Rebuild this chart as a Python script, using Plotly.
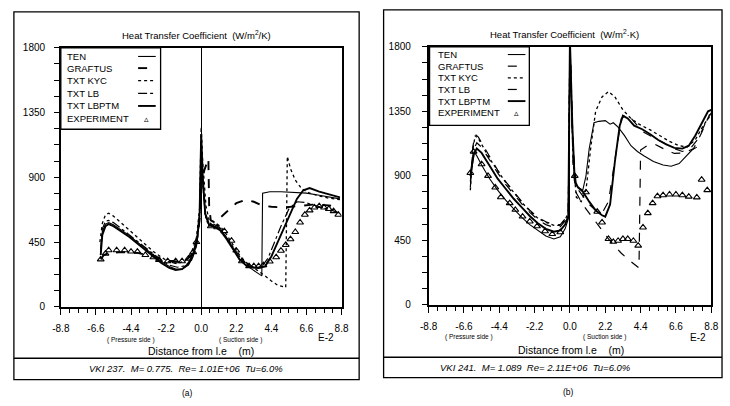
import plotly.graph_objects as go

W, H = 730, 406

# ---------------- data: panel (a) VKI 237 ----------------
a_ten_x = [-6.3,-6.2,-6.0,-5.8,-5.5,-5.0,-4.5,-4.0,-3.5,-3.0,-2.5,-2.0,-1.6,-1.2,-0.8,-0.5,-0.25,-0.1,0.0,0.1,0.25,0.5,0.8,1.2,1.6,2.0,2.4,2.8,3.2,3.6,3.8,3.85,4.3,5.0,5.8,6.6,7.4,8.2,8.7]
a_ten_y = [380,520,575,585,570,535,495,450,405,360,315,280,262,262,290,350,450,620,1150,850,640,560,575,545,480,410,330,290,260,230,215,790,800,800,795,790,775,760,750]

a_graftus_x = [-6.3,-6.1,-5.8,-5.0,-4.0,-3.5,-3.0,-2.5,-2.0,-1.5,-1.0,-0.6,-0.3,-0.1,0.0,0.2,0.45,0.5,0.6,0.8,1.1,1.6,2.2,2.8,3.3,3.8,4.4,5.2,6.0,7.0,8.0,8.7]
a_graftus_y = [330,360,375,380,375,365,350,335,320,315,320,360,450,600,850,950,1030,700,600,590,610,660,720,745,730,705,695,690,700,710,705,690]

a_kyc_x = [-6.35,-6.2,-6.0,-5.8,-5.5,-5.0,-4.5,-4.0,-3.5,-3.0,-2.5,-2.0,-1.5,-1.0,-0.6,-0.3,-0.1,0.0,0.1,0.3,0.5,0.8,1.2,1.6,2.0,2.4,2.8,3.2,3.6,4.0,4.4,4.8,5.3,5.4,5.6,5.9,6.3,6.8,7.4,8.0,8.7]
a_kyc_y = [450,580,640,650,630,580,530,480,430,385,345,310,300,320,380,480,680,1250,1000,700,600,590,560,500,430,360,310,280,250,215,180,150,135,1045,960,880,820,790,770,755,745]

a_lb_x = [-6.3,-6.2,-6.0,-5.8,-5.5,-5.0,-4.5,-4.0,-3.5,-3.0,-2.5,-2.0,-1.5,-1.0,-0.6,-0.3,-0.1,0.0,0.1,0.3,0.6,1.0,1.4,1.8,2.2,2.6,3.0,3.4,3.8,4.2,4.6,5.0,5.5,6.0,6.5,7.0,7.6,8.2,8.7]
a_lb_y = [400,540,595,600,585,545,500,455,410,365,325,290,275,285,330,420,600,1100,850,600,560,555,510,450,380,320,285,270,280,340,450,560,680,730,725,710,690,670,650]

a_lbptm_x = [-6.3,-6.2,-6.0,-5.8,-5.5,-5.0,-4.5,-4.0,-3.5,-3.0,-2.5,-2.0,-1.6,-1.2,-0.8,-0.5,-0.25,-0.1,0.0,0.1,0.25,0.5,0.8,1.2,1.6,2.0,2.4,2.8,3.2,3.6,4.0,4.4,4.8,5.2,5.6,6.0,6.4,6.8,7.4,8.0,8.7]
a_lbptm_y = [360,500,560,575,560,525,485,440,395,350,305,270,255,262,300,370,480,650,1200,900,650,570,560,530,470,400,330,290,275,270,280,350,450,560,660,750,810,825,800,780,760]

a_exp_x = [-6.3,-6.0,-5.8,-5.3,-4.8,-4.4,-4.0,-3.5,-3.0,-2.65,-2.1,-1.6,-1.2,-0.8,-0.5,-0.3,0.6,1.0,1.45,1.9,2.2,2.55,3.0,3.3,3.6,3.9,4.3,4.7,5.0,5.3,5.6,5.9,6.2,6.5,6.8,7.1,7.4,7.7,8.0,8.3,8.6]
a_exp_y = [330,370,393,393,393,384,384,360,344,326,317,317,317,335,380,450,560,553,526,459,391,317,283,283,283,290,315,345,390,430,470,520,586,640,670,690,700,690,680,665,640]

# ---------------- data: panel (b) VKI 241 ----------------
b_ten_x = [-6.2,-6.05,-5.95,-5.8,-5.5,-5.0,-4.5,-4.0,-3.5,-3.0,-2.5,-2.0,-1.5,-1.0,-0.6,-0.3,-0.1,0.0,0.15,0.3,0.5,0.8,1.0,1.2,1.5,1.8,2.2,2.5,2.7,3.0,3.4,3.8,4.2,4.6,5.2,5.8,6.3,6.8,7.2,7.6,7.9]
b_ten_y = [880,1000,1065,1040,975,880,800,730,670,610,560,520,480,460,475,530,600,1850,1200,850,820,800,900,1090,1270,1280,1285,1260,1270,1240,1180,1110,1070,1040,1000,975,967,985,1030,1080,1100]

b_graftus_x = [-6.2,-6.05,-5.9,-5.7,-5.4,-5.0,-4.5,-4.0,-3.5,-3.0,-2.5,-2.0,-1.5,-1.0,-0.6,-0.3,-0.1,0.0,0.2,0.4,0.8,1.2,1.6,2.0,2.4,2.8,3.2,3.6,4.0,4.3,4.4,4.8,5.3,5.9,6.5,7.1,7.7,8.2,8.7]
b_graftus_y = [820,1100,1190,1170,1110,1030,940,860,790,720,660,610,580,560,560,600,650,1850,950,780,700,640,580,520,460,410,360,320,280,257,1080,1110,1120,1085,1056,1060,1090,1200,1330]

b_kyc_x = [-6.2,-6.05,-5.9,-5.7,-5.4,-5.0,-4.5,-4.0,-3.5,-3.0,-2.5,-2.0,-1.5,-1.0,-0.6,-0.3,-0.1,0.0,0.2,0.4,0.7,1.0,1.3,1.6,2.0,2.4,2.8,3.3,3.8,4.3,5.0,5.6,6.2,6.8,7.3,7.8,8.3,8.8]
b_kyc_y = [800,1080,1180,1160,1100,1020,935,855,785,715,655,605,575,555,555,595,640,1850,1000,750,720,800,1100,1350,1450,1488,1450,1360,1300,1260,1220,1180,1140,1110,1100,1150,1250,1330]

b_lb_x = [-6.2,-6.0,-5.8,-5.5,-5.0,-4.5,-4.0,-3.5,-3.0,-2.5,-2.0,-1.5,-1.0,-0.6,-0.3,-0.1,0.0,0.2,0.4,0.8,1.2,1.6,2.0,2.4,2.8,3.2,3.6,4.0,4.5,5.0,5.5,6.0,6.5,7.0,7.5,8.0,8.4,8.8]
b_lb_y = [860,1080,1130,1100,1010,920,840,770,705,645,595,560,540,545,585,635,1850,1100,820,760,700,660,640,720,1000,1300,1330,1280,1210,1180,1150,1120,1090,1070,1090,1160,1260,1340]

b_lbptm_x = [-6.2,-6.0,-5.8,-5.5,-5.0,-4.5,-4.0,-3.5,-3.0,-2.5,-2.0,-1.5,-1.0,-0.6,-0.3,-0.1,0.0,0.15,0.3,0.5,0.8,1.2,1.6,2.0,2.2,2.5,2.8,3.1,3.3,3.6,4.0,4.5,5.0,5.5,6.0,6.5,7.0,7.4,7.8,8.2,8.6,8.8]
b_lbptm_y = [900,1050,1090,1060,970,880,810,740,680,620,570,530,510,520,560,620,1850,1250,866,820,790,720,660,625,615,700,1000,1250,1320,1300,1250,1225,1190,1150,1120,1095,1090,1110,1180,1270,1350,1360]

b_exp_x = [-6.2,-6.0,-5.5,-5.1,-4.65,-4.3,-3.75,-3.4,-2.95,-2.5,-2.05,-1.55,-1.1,-0.6,0.3,1.0,1.7,2.0,2.4,2.7,3.0,3.3,3.6,3.95,4.25,4.55,4.85,5.15,5.45,5.8,6.2,6.6,7.0,7.4,7.9,8.2,8.55]
b_exp_y = [920,1069,981,900,819,751,710,663,616,582,548,514,494,507,900,785,650,575,460,440,447,460,460,447,413,540,640,710,758,765,770,770,765,755,750,873,800]

tick_vals = [-8.8, -6.6, -4.4, -2.2, 0.0, 2.2, 4.4, 6.6, 8.8]
tick_text = ["-8.8", "-6.6", "-4.4", "-2.2", "0.0", "2.2", "4.4", "6.6", "8.8"]
y_vals = [0, 450, 900, 1350, 1800]
y_text = ["0", "450", "900", "1350", "1800"]

FONT = "Liberation Sans, Arial, Helvetica, sans-serif"

series_styles = {
    "ten": dict(color="black", width=1.1, dash="solid"),
    "graftus_a": dict(color="black", width=1.9, dash="dash"),
    "graftus_b": dict(color="black", width=1.2, dash="dash"),
    "kyc": dict(color="black", width=1.3, dash="dot"),
    "lb_a": dict(color="black", width=1.2, dash="dashdot"),
    "lb_b": dict(color="black", width=1.2, dash="dash"),
    "lbptm": dict(color="black", width=1.9, dash="solid"),
}

fig = go.Figure()

def add_line(x, y, style, xa, ya, name):
    fig.add_trace(go.Scatter(x=x, y=y, mode="lines", line=series_styles[style],
                             xaxis=xa, yaxis=ya, name=name, showlegend=False))

def add_exp(x, y, xa, ya):
    fig.add_trace(go.Scatter(x=x, y=y, mode="markers",
                             marker=dict(symbol="triangle-up-open", size=6, color="black",
                                         line=dict(width=1.1, color="black")),
                             xaxis=xa, yaxis=ya, name="EXPERIMENT", showlegend=False))

add_line(a_ten_x, a_ten_y, "ten", "x", "y", "TEN")
add_line(a_graftus_x, a_graftus_y, "graftus_a", "x", "y", "GRAFTUS")
add_line(a_kyc_x, a_kyc_y, "kyc", "x", "y", "TXT KYC")
add_line(a_lb_x, a_lb_y, "lb_a", "x", "y", "TXT LB")
add_line(a_lbptm_x, a_lbptm_y, "lbptm", "x", "y", "TXT LBPTM")
add_exp(a_exp_x, a_exp_y, "x", "y")

add_line(b_ten_x, b_ten_y, "ten", "x2", "y2", "TEN")
add_line(b_graftus_x, b_graftus_y, "graftus_b", "x2", "y2", "GRAFTUS")
add_line(b_kyc_x, b_kyc_y, "kyc", "x2", "y2", "TXT KYC")
add_line(b_lb_x, b_lb_y, "lb_b", "x2", "y2", "TXT LB")
add_line(b_lbptm_x, b_lbptm_y, "lbptm", "x2", "y2", "TXT LBPTM")
add_exp(b_exp_x, b_exp_y, "x2", "y2")

def px(v):
    return v / W

def py(v):
    return 1 - v / H

def xaxis_cfg(domain, anchor, standoff):
    return dict(domain=domain, anchor=anchor, range=[-8.8, 8.8], tickmode="array",
                tickvals=tick_vals, ticktext=tick_text, ticks="outside", ticklen=6,
                tickwidth=1, tickcolor="black", showline=True, linecolor="black",
                linewidth=1.5, mirror=True, showgrid=False, zeroline=True,
                zerolinecolor="black", zerolinewidth=1.2,
                ticklabelstandoff=standoff, ticklabeloverflow="allow",
                tickfont=dict(family=FONT, size=10, color="black"),
                minor=dict(tick0=-8.8, dtick=0.55, ticks="outside", ticklen=4,
                           tickcolor="black", showgrid=False))

def yaxis_cfg(domain, anchor, standoff):
    return dict(domain=domain, anchor=anchor, range=[0, 1800], tickmode="array",
                tickvals=y_vals, ticktext=y_text, ticks="outside", ticklen=5,
                tickwidth=1, tickcolor="black", showline=True, linecolor="black",
                linewidth=1.5, mirror=True, showgrid=False, zeroline=False,
                ticklabelstandoff=standoff, ticklabeloverflow="allow",
                tickfont=dict(family=FONT, size=10, color="black"),
                minor=dict(tick0=0, dtick=112.5, ticks="outside", ticklen=5,
                           tickcolor="black", showgrid=False))

fig.update_layout(
    width=W, height=H, margin=dict(l=0, r=0, t=0, b=0),
    paper_bgcolor="white", plot_bgcolor="white",
    xaxis=xaxis_cfg([px(53), px(340)], "y", 5),
    yaxis=yaxis_cfg([py(310), py(43)], "x", 7),
    xaxis2=xaxis_cfg([px(429), px(718)], "y2", 5),
    yaxis2=yaxis_cfg([py(308), py(42)], "x2", 9),
    showlegend=False,
)

shapes = []
annots = []

def rect(x0, y0, x1, y1, w=1.2):
    shapes.append(dict(type="rect", xref="paper", yref="paper", x0=px(x0), x1=px(x1),
                       y0=py(y1), y1=py(y0), line=dict(color="black", width=w),
                       fillcolor="rgba(0,0,0,0)", layer="above"))

def hline(x0, x1, y, w=1.2, dash="solid"):
    shapes.append(dict(type="line", xref="paper", yref="paper", x0=px(x0), x1=px(x1),
                       y0=py(y), y1=py(y), line=dict(color="black", width=w, dash=dash),
                       layer="above"))

def text(x, y, s, size=10, anchor="center", italic=False, family=FONT):
    annots.append(dict(xref="paper", yref="paper", x=px(x), y=py(y), text=s,
                       showarrow=False, xanchor=anchor, yanchor="middle",
                       font=dict(family=family, size=size, color="black",
                                 style="italic" if italic else "normal")))

# outer frames and caption boxes
rect(5, 6, 358, 385, 1.3)
hline(5, 358, 363, 1.6)
rect(383, 4, 729, 383, 1.3)
hline(383, 729, 362, 1.6)

# titles
text(192, 30, "Heat Transfer Coefficient  (W/m<sup>2</sup>/K)", 9.5)
text(568, 29, "Heat Transfer Coefficient  (W/m<sup>2</sup>·K)", 9.5)

# axis decorations panel a
text(324, 342, "E-2", 10)
text(125, 344, "( Pressure side )", 6.5)
text(237, 344, "( Suction side )", 6.5)
text(196, 355, "Distance from l.e    (m)", 10.5)
text(181, 374, "VKI 237.  M= 0.775.  Re= 1.01E+06  Tu=6.0%", 9.5, italic=True)
text(183, 399, "(a)", 8.5)

# axis decorations panel b
text(704, 342, "E-2", 10)
text(470, 341, "( Pressure side )", 6.5)
text(609, 341, "( Suction side )", 6.5)
text(575, 354, "Distance from l.e    (m)", 10.5)
text(538, 373, "VKI 241.  M= 1.089  Re= 2.11E+06  Tu=6.0%", 9.5, italic=True)
text(572, 398, "(b)", 8.5)

# legends (label left, sample right) drawn as a boxed key
legend_names = ["TEN", "GRAFTUS", "TXT KYC", "TXT LB", "TXT LBPTM", "EXPERIMENT"]

def legend(x0, y0, x1, y1, rows, tx, s0, s1, styles):
    shapes.append(dict(type="rect", xref="paper", yref="paper", x0=px(x0), x1=px(x1),
                       y0=py(y1), y1=py(y0), line=dict(color="black", width=1.3),
                       fillcolor="white", layer="above"))
    for name, ry, st in zip(legend_names, rows, styles):
        text(tx, ry, name, 9.5, anchor="left")
        if st is None:
            annots.append(dict(xref="paper", yref="paper", x=px((s0 + s1) / 2), y=py(ry),
                               text="▵", showarrow=False, xanchor="center", yanchor="middle",
                               font=dict(family="DejaVu Sans", size=9, color="black")))
        else:
            d = series_styles[st]
            shapes.append(dict(type="line", xref="paper", yref="paper", x0=px(s0), x1=px(s1),
                               y0=py(ry), y1=py(ry),
                               line=dict(color="black", width=d["width"], dash=d["dash"]),
                               layer="above"))

legend(53, 43, 155, 127, [52, 64, 77, 90, 103, 116], 57, 132, 150,
       ["ten", "graftus_a", "kyc", "lb_a", "lbptm", None])
legend(430, 42, 532, 123, [50, 62, 74, 86, 98, 110], 437, 510, 528,
       ["ten", "graftus_b", "kyc", "lb_b", "lbptm", None])

fig.update_layout(shapes=shapes, annotations=annots)
fig.write_html("out.html", config={"displayModeBar": False},
               post_script="document.body.style.margin='0';document.body.style.overflow='hidden';")
